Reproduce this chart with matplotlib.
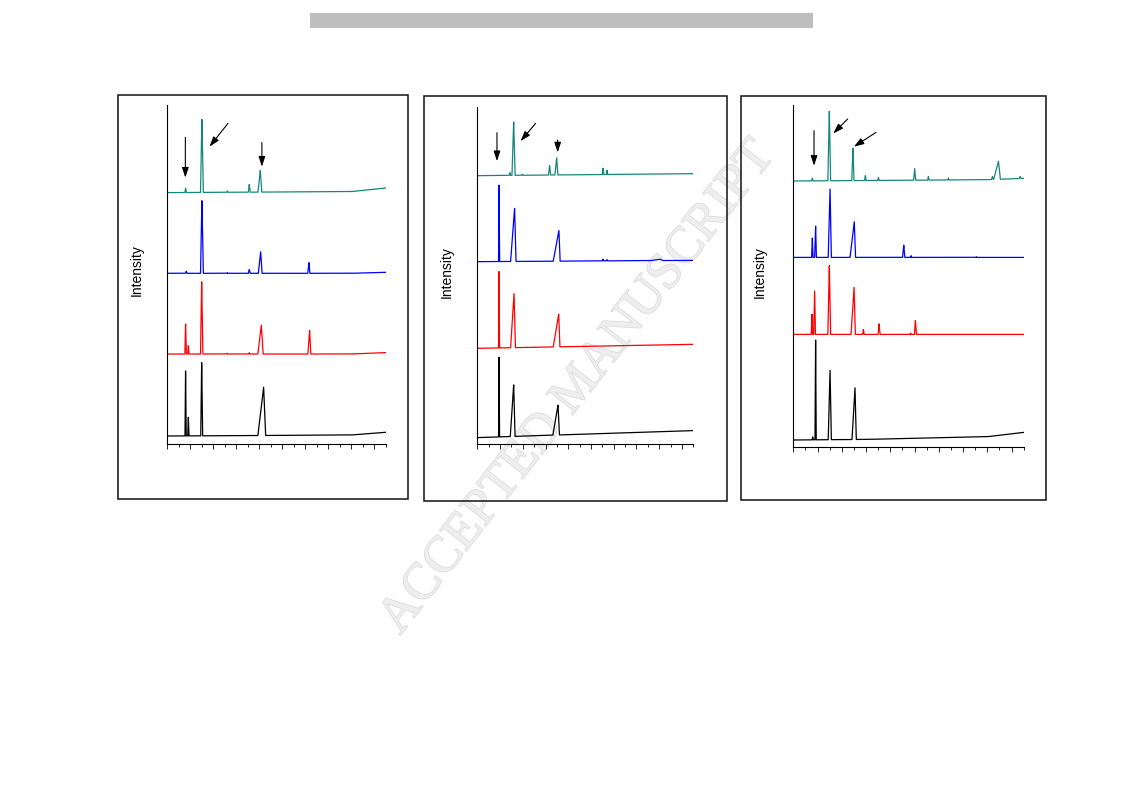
import numpy as np
import matplotlib.pyplot as plt
from matplotlib.patches import Rectangle
import matplotlib.patheffects as pe

plt.rcParams['font.family'] = ['Liberation Sans', 'DejaVu Sans']

W, H = 1123, 793
COLORS = ['#14877d', '#0000ff', '#ff0000', '#000000']  # teal, blue, red, black (top to bottom)

# ---- panel 1 -------------------------------------------------------------
# each trace: baseline points, then peaks (position, height, left width, right width)
p1_base_x = [[0, 16, 19], [0, 16, 19], [0, 16, 19], [0, 16, 19]]
p1_base_y = [[251.7, 252.7, 256.3], [171, 171, 172], [90.3, 90.3, 91.7], [8.3, 9.3, 12]]
p1_pos = [[1.59, 3.01, 5.22, 7.13, 8.09],
          [1.65, 3.01, 5.22, 7.13, 8.12, 12.32],
          [1.59, 1.83, 2.99, 5.22, 7.13, 8.18, 12.38],
          [1.59, 1.83, 2.99, 8.38]]
p1_h = [[4.3, 73.7, 1.3, 7.7, 21.7],
        [2, 73.3, 0.7, 3.7, 21.7, 10.7],
        [30, 8.3, 72.3, 0.7, 1.3, 29, 23.7],
        [65, 18.7, 73.3, 48.3]]
p1_wl = [[.06, .12, .06, .08, .2],
         [.06, .12, .06, .08, .2, .1],
         [.06, .05, .1, .06, .06, .3, .15],
         [.05, .05, .08, .5]]
p1_wr = [[.06, .12, .06, .08, .12],
         [.06, .12, .06, .08, .12, .08],
         [.06, .05, .1, .06, .06, .15, .1],
         [.05, .05, .08, .17]]
p1_arrows = [((1.57, 307), (1.57, 266.7)), ((5.28, 321), (3.68, 297.7)), ((8.23, 301.7), (8.23, 277.7))]

# ---- panel 2 -------------------------------------------------------------
p2_base_x = [[0, 19], [0, 19], [0, 19], [0, 19]]
p2_base_y = [[268.7, 270.7], [182.7, 184], [96, 100], [6.7, 13.7]]
p2_pos = [[2.87, 3.2, 3.96, 6.36, 6.98, 11.06, 11.41],
          [1.91, 3.28, 7.18, 11.06, 11.41, 16.04],
          [1.91, 3.23, 7.16],
          [1.91, 3.2, 7.1]]
p2_h = [[2.7, 53.7, 1, 9.3, 17, 6.3, 4.3],
        [76.7, 53.3, 30.7, 1.7, 1.3, 1.3],
        [76.7, 54.3, 32.7],
        [80, 51.7, 30]]
p2_wl = [[.06, .15, .05, .1, .15, .06, .05],
         [.04, .35, .5, .06, .05, .8],
         [.04, .3, .48],
         [.04, .3, .45]]
p2_wr = [[.06, .12, .05, .08, .1, .06, .05],
         [.05, .12, .1, .06, .05, .3],
         [.05, .12, .1],
         [.05, .12, .12]]
p2_arrows = [((1.73, 311.7), (1.73, 283.3)), ((5.13, 321), (3.81, 303.3)), ((7.07, 304.3), (7.07, 292))]

# ---- panel 3 -------------------------------------------------------------
p3_base_x = [[0, 16, 19], [0, 19], [0, 19], [0, 6, 16, 19]]
p3_base_y = [[265.7, 267, 268.3], [189.3, 189.3], [112.3, 112.3], [6.7, 7.3, 10, 14.3]]
p3_pos = [[1.57, 2.97, 4.92, 5.94, 7.02, 10.01, 11.14, 12.79, 16.42, 16.92, 18.71],
          [1.57, 1.84, 3.03, 5.03, 9.11, 9.71, 15.1],
          [1.54, 1.76, 2.97, 5.01, 5.78, 7.07, 9.68, 10.07],
          [1.6, 1.84, 3.03, 5.09]]
p3_h = [[2.7, 70, 32.7, 5, 3, 11.7, 3.7, 2, 3, 18, 2],
        [19.7, 31.3, 69, 35.7, 12.3, 1.7, 0.7],
        [20.3, 44, 69.3, 47.3, 5, 10.7, 1.3, 14],
        [3, 100, 70, 51.7]]
p3_wl = [[.06, .12, .1, .06, .06, .08, .06, .05, .08, .4, .08],
         [.06, .08, .15, .35, .1, .05, .05],
         [.06, .08, .12, .25, .06, .08, .05, .08],
         [.05, .05, .15, .25]]
p3_wr = [[.06, .1, .08, .06, .06, .08, .06, .05, .08, .15, .08],
         [.05, .06, .1, .1, .08, .05, .05],
         [.05, .06, .1, .1, .06, .08, .05, .08],
         [.05, .05, .1, .1]]
p3_arrows = [((1.71, 316), (1.71, 281)), ((4.48, 327.7), (3.30, 313.3)), ((6.82, 314.3), (5.0, 300))]

# ---- layout (pixel boxes) -------------------------------------------------
axes_px = [(167.3, 105, 385.7, 444.3), (477.3, 106.7, 693.3, 444.3), (793.3, 105, 1023.7, 446.7)]
frames_px = [(118, 95, 408, 499), (424, 96, 727, 501), (741, 96, 1046, 500)]
label_px = [(137, 270), (447, 272), (760, 272)]
ytops = [339.3, 337.7, 341.7]


def trace(xs, bx, by, pos, h, wl, wr):
    y = np.interp(xs, bx, by)
    bump = np.zeros_like(xs)
    for p, hh, l, r in zip(pos, h, wl, wr):
        left = np.clip(1 - (p - xs) / l, 0, 1) * (xs <= p)
        right = np.clip(1 - (xs - p) / r, 0, 1) * (xs > p)
        bump = np.maximum(bump, hh * (left + right))
    return y + bump


fig = plt.figure(figsize=(W / 100, H / 100), dpi=100)

# grey bar at top
fig.patches.append(Rectangle((310 / W, 1 - 28 / H), 503 / W, 15 / H, transform=fig.transFigure,
                             facecolor='#bebebe', edgecolor='none'))

panels = [
    (p1_base_x, p1_base_y, p1_pos, p1_h, p1_wl, p1_wr, p1_arrows),
    (p2_base_x, p2_base_y, p2_pos, p2_h, p2_wl, p2_wr, p2_arrows),
    (p3_base_x, p3_base_y, p3_pos, p3_h, p3_wl, p3_wr, p3_arrows),
]

xs = np.linspace(0, 19, 6000)
for i, (bx, by, pos, h, wl, wr, arrows) in enumerate(panels):
    fl, ft, fr, fb = frames_px[i]
    fig.patches.append(Rectangle((fl / W, 1 - fb / H), (fr - fl) / W, (fb - ft) / H,
                                 transform=fig.transFigure, facecolor='none',
                                 edgecolor='#111111', linewidth=1.1))
    l, t, r, b = axes_px[i]
    ax = fig.add_axes([l / W, 1 - b / H, (r - l) / W, (b - t) / H])
    ax.set_facecolor('none')
    for k in range(4):
        ax.plot(xs, trace(xs, bx[k], by[k], pos[k], h[k], wl[k], wr[k]),
                color=COLORS[k], lw=0.9)
    for (x0, y0), (x1, y1) in arrows:
        ax.annotate('', xy=(x1, y1), xytext=(x0, y0), annotation_clip=False,
                    arrowprops=dict(arrowstyle='-|>,head_length=0.6,head_width=0.2',
                                    color='black', lw=0.8,
                                    mutation_scale=10, shrinkA=0, shrinkB=0))
    ax.set_xlim(0, 19)
    ax.set_ylim(0, ytops[i])
    ax.spines['top'].set_visible(False)
    ax.spines['right'].set_visible(False)
    ax.spines['left'].set_linewidth(0.8)
    ax.spines['bottom'].set_linewidth(0.8)
    ax.set_xticks(np.arange(0, 20, 2))
    ax.set_xticks(np.arange(1, 20, 2), minor=True)
    ax.set_yticks([])
    ax.tick_params(axis='x', which='major', direction='out', length=3.5, width=0.6, labelbottom=False)
    ax.tick_params(axis='x', which='minor', direction='out', length=2, width=0.6)
    lx, ly = label_px[i]
    fig.text(lx / W, 1 - ly / H, 'Intensity', rotation=90, ha='center', va='center', fontsize=10)

# watermark
fig.text(578 / W, 1 - 388 / H, 'ACCEPTED MANUSCRIPT', rotation=52, ha='center', va='center',
         fontsize=37, family='Liberation Serif', color='#eeeeee', zorder=-1,
         path_effects=[pe.withStroke(linewidth=1.0, foreground='#d8d8d8')])

fig.savefig('out.png', dpi=100)
